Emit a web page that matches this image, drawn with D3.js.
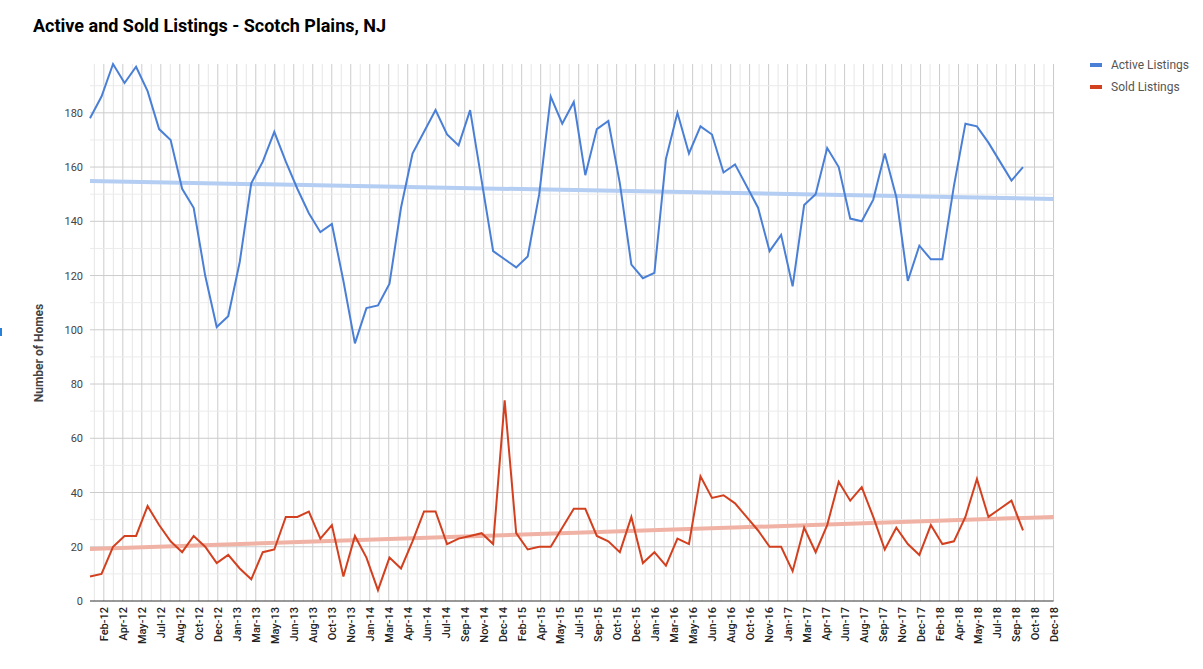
<!DOCTYPE html>
<html><head><meta charset="utf-8">
<script src="https://cdn.jsdelivr.net/npm/d3@7"></script>
<style>body{margin:0;background:#fff;font-family:Roboto,Arial,sans-serif}</style>
</head><body><svg id="c" width="1203" height="669"></svg>
<script>
const activeListings=[178,186,198,191,197,188,174,170,152,145,120,101,105,125,154,162,173,162,152,143,136,139,118,95,108,109,117,145,165,173,181,172,168,181,155,129,126,123,127,150,186,176,184,157,174,177,154,124,119,121,163,180,165,175,172,158,161,153,145,129,135,116,146,150,167,160,141,140,148,165,149,118,131,126,126,153,176,175,169,162,155,160];
const soldListings=[9,10,20,24,24,35,28,22,18,24,20,14,17,12,8,18,19,31,31,33,23,28,9,24,16,4,16,12,22,33,33,21,23,24,25,21,74,25,19,20,20,27,34,34,24,22,18,31,14,18,13,23,21,46,38,39,36,31,26,20,20,11,27,18,28,44,37,42,31,19,27,21,17,28,21,22,31,45,31,34,37,26];
const tickLabels=["Feb-12","Apr-12","May-12","Jul-12","Aug-12","Oct-12","Dec-12","Jan-13","Mar-13","May-13","Jun-13","Aug-13","Oct-13","Nov-13","Jan-14","Mar-14","Apr-14","Jun-14","Jul-14","Sep-14","Nov-14","Dec-14","Feb-15","Apr-15","May-15","Jul-15","Sep-15","Oct-15","Dec-15","Jan-16","Mar-16","May-16","Jun-16","Aug-16","Oct-16","Nov-16","Jan-17","Mar-17","Apr-17","Jun-17","Aug-17","Sep-17","Nov-17","Dec-17","Feb-18","Apr-18","May-18","Jul-18","Sep-18","Oct-18","Dec-18"];
const seriesNames=["Active Listings","Sold Listings"];
const colors=["#4a7fd6","#d2401f"],trendColors=["#b4cdf3","#f0b2a4"];

const svg=d3.select("#c");
const x=d3.scaleLinear().domain([0,81]).range([90,1023]);
const xEnd=83.65;
const y=d3.scaleLinear().domain([0,198]).range([601,64]);
const L=90,R=x(xEnd);
const g=svg.append("g");
const tickStep=(xEnd-1.2)/(tickLabels.length-1);
for(let k=0;k<tickLabels.length;k++){
  const v=1.2+k*tickStep;
  g.append("line").attr("x1",x(v)).attr("x2",x(v)).attr("y1",64).attr("y2",601).attr("stroke","#ccc");
  const m=v-tickStep/2;
  g.append("line").attr("x1",x(m)).attr("x2",x(m)).attr("y1",64).attr("y2",601).attr("stroke","#e6e6e6");
}
g.append("line").attr("x1",R).attr("x2",R).attr("y1",64).attr("y2",601).attr("stroke","#ccc");
for(let v=10;v<=190;v+=10){
  g.append("line").attr("x1",L).attr("x2",R).attr("y1",y(v)).attr("y2",y(v)).attr("stroke",v%20?"#ebebeb":"#ccc");
}
svg.append("g").selectAll("text").data(d3.range(0,181,20)).join("text")
 .attr("x",83).attr("y",d=>y(d)+4).attr("text-anchor","end").attr("font-size",11).attr("fill","#444").text(d=>d);
svg.append("g").selectAll("text").data(tickLabels).join("text")
 .attr("transform",(d,k)=>`translate(${x(1.2+k*tickStep)+4},607) rotate(-90)`)
 .attr("text-anchor","end").attr("font-size",11).attr("font-weight",500).attr("fill","#222").text(d=>d);
[activeListings,soldListings].forEach((s,si)=>{
  const mx=d3.mean(s,(d,i)=>i),my=d3.mean(s);
  const b=d3.sum(s,(d,i)=>(i-mx)*(d-my))/d3.sum(s,(d,i)=>(i-mx)**2),a=my-b*mx;
  svg.append("line").attr("x1",x(0)).attr("x2",x(xEnd)).attr("y1",y(a)).attr("y2",y(a+b*xEnd))
   .attr("stroke",trendColors[si]).attr("stroke-width",4);
});
const line=d3.line().x((d,i)=>x(i)).y(d=>y(d));
[activeListings,soldListings].forEach((s,si)=>{
  svg.append("path").attr("d",line(s)).attr("fill","none").attr("stroke",colors[si]).attr("stroke-width",2);
});
svg.append("line").attr("x1",L).attr("x2",R).attr("y1",601).attr("y2",601).attr("stroke","#333");
svg.append("text").attr("x",33).attr("y",32).attr("font-size",18).attr("font-weight",700).attr("fill","#000").text("Active and Sold Listings - Scotch Plains, NJ");
svg.append("text").attr("transform","translate(43,353) rotate(-90)").attr("text-anchor","middle").attr("font-size",12).attr("font-weight",700).attr("fill","#444").text("Number of Homes");
seriesNames.forEach((n,i)=>{
  svg.append("rect").attr("x",1090).attr("y",63+i*22).attr("width",12).attr("height",4).attr("fill",colors[i]);
  svg.append("text").attr("x",1111).attr("y",69+i*22).attr("font-size",12).attr("fill","#555").text(n);
});
svg.append("rect").attr("x",0).attr("y",328).attr("width",2).attr("height",8).attr("fill","#2a7fd6");
</script></body></html>
